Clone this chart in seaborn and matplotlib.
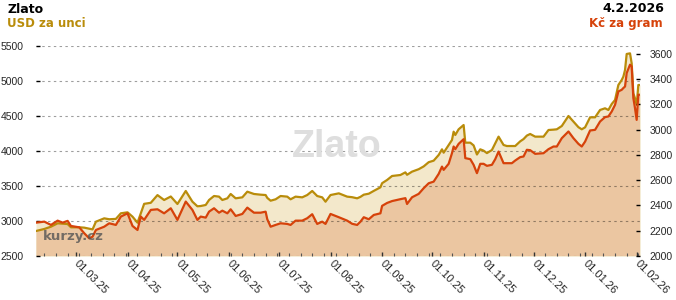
import matplotlib
matplotlib.use("Agg")
import matplotlib.pyplot as plt
import matplotlib.dates as mdates
import seaborn as sns
import pandas as pd

# ---------------- data ----------------
dates = [
    "2025-02-05", "2025-02-10", "2025-02-14", "2025-02-18", "2025-02-21", "2025-02-24",
    "2025-02-26", "2025-03-03", "2025-03-06", "2025-03-09", "2025-03-11", "2025-03-13",
    "2025-03-18", "2025-03-21", "2025-03-25", "2025-03-28", "2025-04-01", "2025-04-04",
    "2025-04-07", "2025-04-09", "2025-04-11", "2025-04-15", "2025-04-19", "2025-04-23",
    "2025-04-27", "2025-05-01", "2025-05-06",
    "2025-05-10", "2025-05-13", "2025-05-15", "2025-05-18", "2025-05-20", "2025-05-23",
    "2025-05-26", "2025-05-28", "2025-05-31", "2025-06-02", "2025-06-05", "2025-06-09",
    "2025-06-12", "2025-06-16", "2025-06-20", "2025-06-23", "2025-06-24", "2025-06-26",
    "2025-06-29", "2025-07-02", "2025-07-06", "2025-07-08", "2025-07-11", "2025-07-15",
    "2025-07-18", "2025-07-21", "2025-07-24", "2025-07-27", "2025-07-29", "2025-08-01",
    "2025-08-06",
    "2025-08-11", "2025-08-14", "2025-08-17", "2025-08-19", "2025-08-21", "2025-08-24",
    "2025-08-27", "2025-08-31", "2025-09-01", "2025-09-04", "2025-09-07", "2025-09-12",
    "2025-09-15", "2025-09-16", "2025-09-19", "2025-09-23", "2025-09-26", "2025-09-29",
    "2025-10-02", "2025-10-05", "2025-10-07", "2025-10-08", "2025-10-11", "2025-10-13",
    "2025-10-14", "2025-10-15", "2025-10-17", "2025-10-20", "2025-10-21", "2025-10-24",
    "2025-10-26", "2025-10-28", "2025-10-30", "2025-11-01", "2025-11-03",
    "2025-11-06", "2025-11-08", "2025-11-10", "2025-11-13", "2025-11-15", "2025-11-18",
    "2025-11-20", "2025-11-23", "2025-11-25", "2025-11-27", "2025-11-29", "2025-12-02",
    "2025-12-07", "2025-12-10", "2025-12-13", "2025-12-15", "2025-12-18", "2025-12-22",
    "2025-12-25", "2025-12-28", "2025-12-30", "2026-01-01", "2026-01-04", "2026-01-07",
    "2026-01-10", "2026-01-13", "2026-01-15", "2026-01-17", "2026-01-19", "2026-01-21",
    "2026-01-23", "2026-01-24", "2026-01-25", "2026-01-26", "2026-01-28", "2026-01-29",
    "2026-01-30", "2026-01-31", "2026-02-01", "2026-02-02", "2026-02-03",
]

usd = [
    2857, 2886, 2919, 2967, 2962, 2957,
    2910, 2910, 2905, 2890, 2880, 2990,
    3038, 3025, 3030, 3110, 3124, 3062,
    2976, 3110, 3245, 3260, 3370, 3300,
    3350, 3243, 3429,
    3276, 3210, 3214, 3229, 3300, 3357,
    3348, 3300, 3324, 3386, 3324, 3338,
    3419, 3386, 3376, 3371, 3330, 3290,
    3310, 3357, 3348, 3310, 3348, 3338,
    3371, 3429, 3357, 3338, 3276, 3371,
    3395,
    3348, 3340, 3324, 3345, 3376, 3390,
    3430, 3481, 3540, 3586, 3643, 3657,
    3695, 3660, 3705, 3740, 3780, 3840,
    3862, 3943, 4024, 3976, 4086, 4157,
    4276, 4229, 4310, 4371, 4119, 4119,
    4080, 3950, 4024, 4005, 3970,
    4014, 4110, 4205, 4086, 4071, 4071,
    4071, 4138, 4170, 4220, 4243, 4205,
    4205, 4300, 4305, 4310, 4357, 4500,
    4419, 4340, 4310, 4338, 4481, 4481,
    4586, 4610, 4586, 4671, 4729, 4943,
    5014, 5062, 5157, 5386, 5395, 5252,
    4824, 4752, 4657, 4943, 4943,
]

czk = [
    2264, 2272, 2246, 2280, 2264, 2278,
    2238, 2227, 2180, 2140, 2153, 2206,
    2232, 2259, 2246, 2312, 2338, 2238,
    2206, 2312, 2286, 2365, 2370, 2338,
    2378, 2286, 2431,
    2365, 2286, 2312, 2304, 2351, 2378,
    2343, 2359, 2338, 2370, 2317, 2333,
    2383, 2343, 2343, 2351, 2291, 2232,
    2246, 2259, 2254, 2246, 2280, 2280,
    2299, 2331, 2254, 2272, 2254, 2333,
    2307,
    2280, 2255, 2246, 2272, 2307, 2291,
    2325, 2338, 2397, 2420, 2435, 2450,
    2458, 2412, 2465, 2492, 2537, 2576,
    2589, 2650, 2708, 2682, 2730, 2814,
    2867, 2846, 2888, 2925, 2775, 2767,
    2722, 2656, 2730, 2730, 2714,
    2722, 2767, 2827, 2735, 2735, 2735,
    2756, 2783, 2788, 2841, 2838, 2809,
    2814, 2846, 2867, 2867, 2933, 2986,
    2933, 2888, 2867, 2906, 2994, 2999,
    3065, 3100, 3105, 3144, 3197, 3303,
    3316, 3330, 3342, 3449, 3515, 3501,
    3251, 3171, 3078, 3277, 3277,
]

usd_ticks = [2500, 3000, 3500, 4000, 4500, 5000, 5500]
czk_ticks = [2000, 2200, 2400, 2600, 2800, 3000, 3200, 3400, 3600]
usd_range = (2500, 5500)
czk_range = (2000, 3663)

title = "Zlato"
left_unit = "USD za unci"
right_date = "4.2.2026"
right_unit = "Kč za gram"
watermark = "Zlato"
brand = "kurzy.cz"

GOLD = "#b98c0a"
RED = "#d6420a"
CREAM = "#f3e8cb"
TAN = "#ebc6a1"

# ---------------- plot ----------------
sns.set_style("white")
plt.rcParams["font.family"] = ["Liberation Sans", "DejaVu Sans"]

df = pd.DataFrame({"date": pd.to_datetime(dates), "usd": usd, "czk": czk})

W, H = 676, 300
fig = plt.figure(figsize=(W / 100, H / 100), dpi=100)
ax = fig.add_axes([36 / W, 44 / H, 604 / W, 210 / H])
ax2 = ax.twinx()

ax.set_ylim(*usd_range)
ax2.set_ylim(*czk_range)
ax.set_xlim(df["date"].iloc[0], df["date"].iloc[-1])

# fills (all on the lower axes so the grid stays above them)
usd_fill = ax.fill_between(df["date"], usd_range[0], df["usd"], color=CREAM, lw=0, zorder=0.1)
ax.fill_between(df["date"], czk_range[0], df["czk"], color=CREAM, lw=0, zorder=0.2,
                transform=ax2.transData)
tan = ax.fill_between(df["date"], czk_range[0], df["czk"], color=TAN, lw=0, zorder=0.3,
                      transform=ax2.transData)
tan.set_clip_path(usd_fill.get_paths()[0], ax.transData)

# lines
sns.lineplot(data=df, x="date", y="usd", ax=ax, color=GOLD, lw=1.6, zorder=3)
sns.lineplot(data=df, x="date", y="czk", ax=ax2, color=RED, lw=1.6, zorder=3)
ax.set_ylim(*usd_range)
ax2.set_ylim(*czk_range)
ax.set_xlim(df["date"].iloc[0], df["date"].iloc[-1])

# grid
ax.set_axisbelow(True)
ax.yaxis.grid(True, color="black", alpha=0.38, lw=0.8, linestyle=(0, (2.2, 3.0)))
ax.xaxis.grid(False)
ax2.grid(False)

for a in (ax, ax2):
    for s in a.spines.values():
        s.set_visible(False)
    a.set_xlabel("")
    a.set_ylabel("")

# ticks
ax.set_yticks(usd_ticks)
ax2.set_yticks(czk_ticks)
ax.tick_params(axis="y", left=True, direction="in", length=3, width=1, color="black",
               labelsize=7.5, pad=9)
ax2.tick_params(axis="y", right=True, direction="in", length=3, width=1, color="black",
                labelsize=7.5, pad=7)
ax.xaxis.set_major_locator(mdates.MonthLocator(bymonthday=1))
ax.xaxis.set_major_formatter(mdates.DateFormatter("%d.%m.%y"))
ax.xaxis.set_minor_locator(mdates.WeekdayLocator(byweekday=mdates.MO))
ax.tick_params(axis="x", which="major", bottom=True, direction="in", length=3, width=1,
               color="#333333", labelsize=8, pad=4)
ax.tick_params(axis="x", which="minor", bottom=True, direction="in", length=2, width=0.8,
               color="#555555")
plt.setp(ax.get_xticklabels(), rotation=-45, ha="left", va="center", rotation_mode="anchor")

# watermarks
ax.text(0.498, 0.473, watermark, transform=ax.transAxes, ha="center", va="baseline",
        fontsize=27, fontweight="bold", color="#dedede", zorder=1)
ax2.text(0.011, 0.076, brand, transform=ax2.transAxes, ha="left", va="baseline",
         fontsize=9.5, fontweight="bold", color="#555555", alpha=0.8, zorder=5,
         family="DejaVu Sans")

# header texts
fig.text(7 / W, 1 - 13.3 / H, title, ha="left", va="baseline", fontsize=9,
         fontweight="bold", color="black", family="DejaVu Sans")
fig.text(7 / W, 1 - 26.7 / H, left_unit, ha="left", va="baseline", fontsize=8.5,
         fontweight="bold", color=GOLD, family="DejaVu Sans")
fig.text(664 / W, 1 - 12.3 / H, right_date, ha="right", va="baseline", fontsize=9,
         fontweight="bold", color="black", family="DejaVu Sans")
fig.text(663 / W, 1 - 26.7 / H, right_unit, ha="right", va="baseline", fontsize=8.5,
         fontweight="bold", color=RED, family="DejaVu Sans")

fig.savefig("out.png", dpi=100)
